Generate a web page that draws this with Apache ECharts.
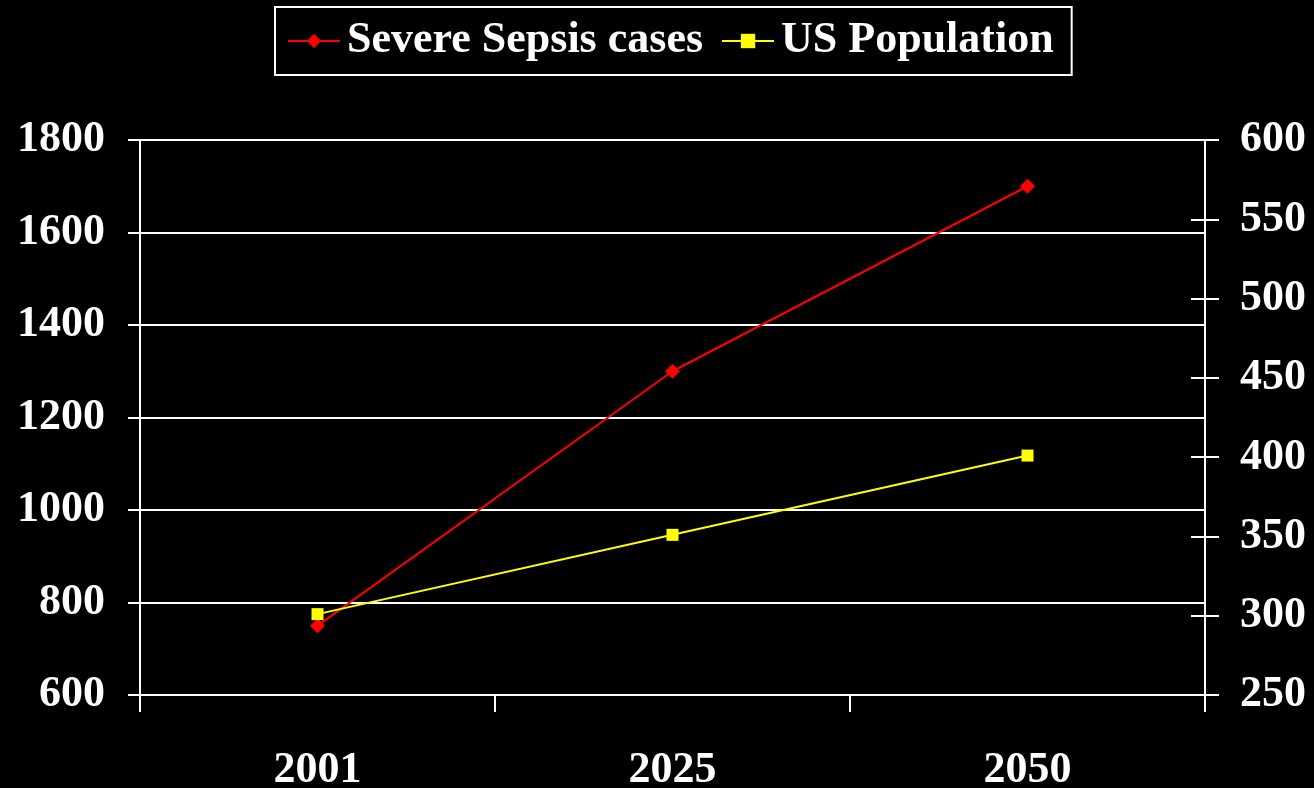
<!DOCTYPE html>
<html>
<head>
<meta charset="utf-8">
<script src="https://cdn.jsdelivr.net/npm/echarts@6/dist/echarts.min.js"></script>
<style>
html,body{margin:0;padding:0;background:#000;}
#chart{width:1314px;height:788px;}
</style>
</head>
<body>
<div id="chart"></div>
<script>
const categories = ['2001', '2025', '2050'];
const sepsisCases = [750, 1300, 1700];
const usPopulation = [301, 351, 401];
const seriesNames = ['Severe Sepsis cases', 'US Population'];

const FONT = '"Liberation Serif", "Times New Roman", serif';
const chart = echarts.init(document.getElementById('chart'));
chart.setOption({
  backgroundColor: '#000',
  animation: false,
  textStyle: { fontFamily: FONT, fontWeight: 'bold', color: '#fff' },
  legend: {
    left: 275,
    top: 7,
    padding: [12, 18, 12, 12],
    itemGap: 18,
    itemWidth: 52,
    itemHeight: 18,
    borderColor: '#fff',
    borderWidth: 2,
    data: seriesNames,
    textStyle: { fontFamily: FONT, fontWeight: 'bold', fontSize: 44, color: '#fff', padding: [0, 0, 0, 2] }
  },
  grid: { left: 140, right: 109, top: 140, bottom: 93, containLabel: false, outerBoundsMode: 'none' },
  xAxis: {
    type: 'category',
    data: categories,
    boundaryGap: true,
    axisLine: { show: true, lineStyle: { color: '#fff', width: 2 } },
    axisTick: { show: true, length: 17, lineStyle: { color: '#fff', width: 2 } },
    axisLabel: { margin: 54, fontFamily: FONT, fontWeight: 'bold', fontSize: 44, color: '#fff' },
    splitLine: { show: false }
  },
  yAxis: [
    {
      type: 'value', position: 'left', min: 600, max: 1800, interval: 200,
      axisLine: { show: true, lineStyle: { color: '#fff', width: 2 } },
      axisTick: { show: true, length: 12, lineStyle: { color: '#fff', width: 2 } },
      axisLabel: { margin: 35, fontFamily: FONT, fontWeight: 'bold', fontSize: 44, color: '#fff',
        formatter: v => String(v) },
      splitLine: { show: true, lineStyle: { color: '#fff', width: 2 } }
    },
    {
      type: 'value', position: 'right', min: 250, max: 600, interval: 50,
      axisLine: { show: true, lineStyle: { color: '#fff', width: 2 } },
      axisTick: { show: true, length: 14, lineStyle: { color: '#fff', width: 2 } },
      axisLabel: { margin: 35, fontFamily: FONT, fontWeight: 'bold', fontSize: 44, color: '#fff',
        formatter: v => String(v) },
      splitLine: { show: false }
    },
    {
      type: 'value', position: 'right', min: 250, max: 600, interval: 50,
      axisLine: { show: false },
      axisTick: { show: true, inside: true, length: 14, lineStyle: { color: '#fff', width: 2 } },
      axisLabel: { show: false },
      splitLine: { show: false }
    }
  ],
  series: [
    {
      name: seriesNames[0], type: 'line', yAxisIndex: 0, data: sepsisCases,
      symbol: 'diamond', symbolSize: 15,
      lineStyle: { color: '#ff0000', width: 2 },
      itemStyle: { color: '#ff0000' }
    },
    {
      name: seriesNames[1], type: 'line', yAxisIndex: 1, data: usPopulation,
      symbol: 'rect', symbolSize: 12,
      lineStyle: { color: '#ffff00', width: 2 },
      itemStyle: { color: '#ffff00' }
    }
  ]
});
</script>
</body>
</html>
